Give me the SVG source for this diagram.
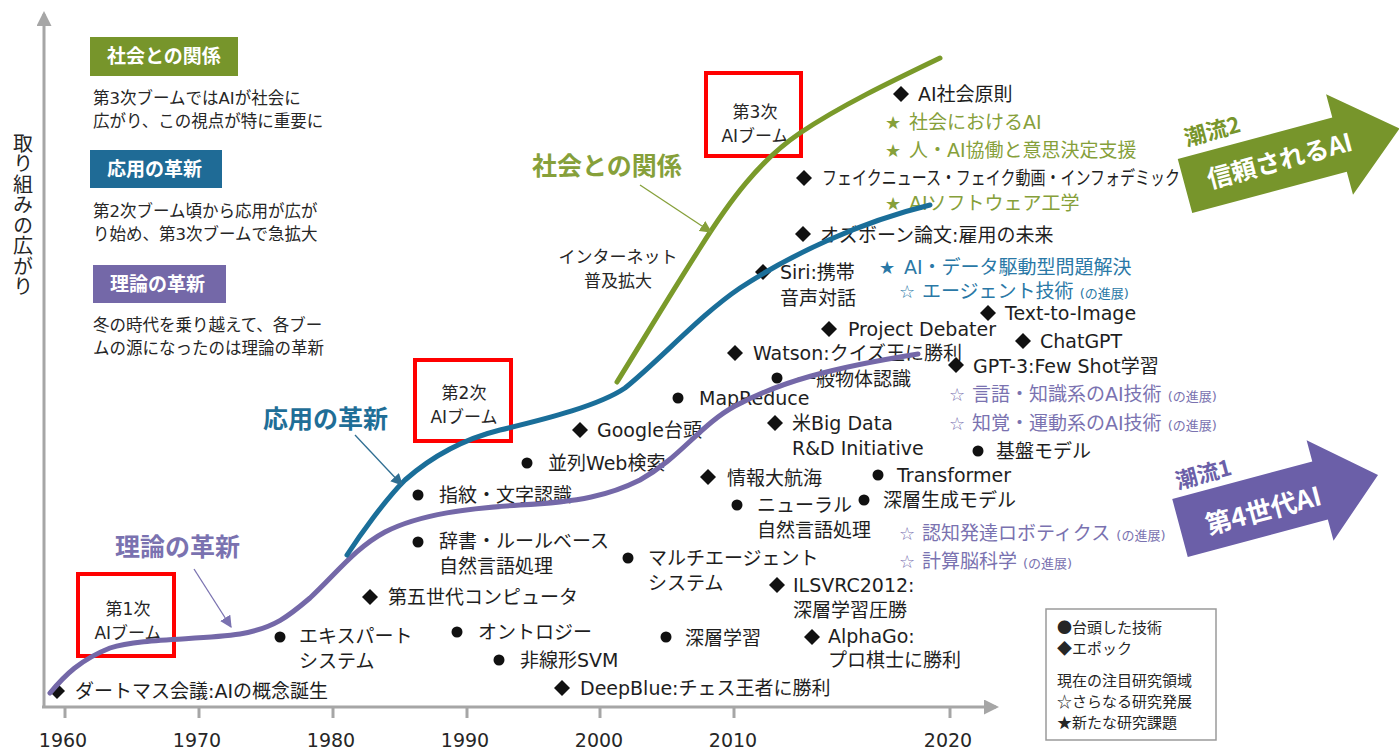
<svg xmlns="http://www.w3.org/2000/svg" width="1399" height="750" viewBox="0 0 1399 750">
<style>
text{font-family:"DejaVu Sans","Noto Sans CJK JP",sans-serif;}
.ev{font-size:19px;fill:#1e1e1e;}
.lg{font-size:16.5px;fill:#262626;}
.bx{font-size:19px;font-weight:bold;fill:#fff;font-family:"Noto Sans CJK JP",sans-serif;}
.cl{font-size:25px;font-weight:bold;font-family:"Noto Sans CJK JP",sans-serif;}
.yr{font-size:19px;fill:#262626;text-anchor:middle;}
.gr{fill:#86a03a;}.bl{fill:#2a78a6;}.pu{fill:#7a72b0;}
.sm{font-size:13px;}
.st{font-size:18px;text-anchor:middle;}
.boom{fill:none;stroke:#ff0000;stroke-width:4;}
.bt{font-size:17px;fill:#262626;text-anchor:middle;}
.ax{stroke:#a6a6a6;stroke-width:3;fill:none;}
.cv{fill:none;stroke-width:5;stroke-linecap:round;}
.lgd{font-size:15px;fill:#262626;font-family:"Noto Sans CJK JP",sans-serif;}
</style>
<defs>
<path id="dm" d="M0,-8 L8,0 0,8 -8,0Z" fill="#111"/>
<circle id="dt" r="5.5" fill="#111"/>
<marker id="axh" viewBox="0 0 10 10" refX="8" refY="5" markerWidth="5" markerHeight="5" orient="auto" markerUnits="strokeWidth"><path d="M0,0 L10,5 0,10Z" fill="#a6a6a6"/></marker>
<marker id="ag" viewBox="0 0 10 10" refX="9" refY="5" markerWidth="12" markerHeight="12" orient="auto" markerUnits="userSpaceOnUse"><path d="M0,0 L10,5 0,10Z" fill="#86a03a"/></marker>
<marker id="ab" viewBox="0 0 10 10" refX="9" refY="5" markerWidth="12" markerHeight="12" orient="auto" markerUnits="userSpaceOnUse"><path d="M0,0 L10,5 0,10Z" fill="#2f6e92"/></marker>
<marker id="ap" viewBox="0 0 10 10" refX="9" refY="5" markerWidth="12" markerHeight="12" orient="auto" markerUnits="userSpaceOnUse"><path d="M0,0 L10,5 0,10Z" fill="#7a72b0"/></marker>
</defs>
<rect width="1399" height="750" fill="#fff"/>

<g id="axes">
<line class="ax" x1="44" y1="707" x2="44" y2="14" marker-end="url(#axh)"/>
<line class="ax" x1="42" y1="707" x2="996" y2="707" marker-end="url(#axh)"/>
<g stroke="#a6a6a6" stroke-width="3">
<line x1="65" y1="707" x2="65" y2="718"/><line x1="199" y1="707" x2="199" y2="718"/><line x1="333" y1="707" x2="333" y2="718"/><line x1="467" y1="707" x2="467" y2="718"/><line x1="600" y1="707" x2="600" y2="718"/><line x1="734" y1="707" x2="734" y2="718"/><line x1="950" y1="707" x2="950" y2="718"/>
</g>
<text class="yr" x="63" y="747">1960</text><text class="yr" x="197" y="747">1970</text><text class="yr" x="331" y="747">1980</text><text class="yr" x="465" y="747">1990</text><text class="yr" x="599" y="747">2000</text><text class="yr" x="733" y="747">2010</text><text class="yr" x="948" y="747">2020</text>
<text x="23" y="133" font-size="20" fill="#262626" style="font-family:'Noto Sans CJK JP',sans-serif;writing-mode:vertical-rl;letter-spacing:0.5px">取り組みの広がり</text>
</g>

<g id="legend-society">
<rect x="90" y="37" width="148" height="39" fill="#77952b"/>
<text class="bx" x="107" y="63">社会との関係</text>
<text class="lg" x="93" y="104">第3次ブームではAIが社会に</text>
<text class="lg" x="93" y="127">広がり、この視点が特に重要に</text>
</g>
<g id="legend-application">
<rect x="90" y="150" width="132" height="38" fill="#1f6b96"/>
<text class="bx" x="107" y="176">応用の革新</text>
<text class="lg" x="93" y="217">第2次ブーム頃から応用が広が</text>
<text class="lg" x="93" y="240">り始め、第3次ブームで急拡大</text>
</g>
<g id="legend-theory">
<rect x="93" y="265" width="133" height="38" fill="#7468a8"/>
<text class="bx" x="110" y="291">理論の革新</text>
<text class="lg" x="93" y="331">冬の時代を乗り越えて、各ブー</text>
<text class="lg" x="93" y="354">ムの源になったのは理論の革新</text>
</g>

<g id="boom1"><rect class="boom" x="78" y="574" width="96" height="82"/><text class="bt" x="128" y="615">第1次</text><text class="bt" x="128" y="639">AIブーム</text></g>
<g id="boom2"><rect class="boom" x="415" y="360" width="96" height="81"/><text class="bt" x="464" y="399">第2次</text><text class="bt" x="464" y="423">AIブーム</text></g>
<g id="boom3"><rect class="boom" x="706" y="73" width="95" height="83"/><text class="bt" x="755" y="118">第3次</text><text class="bt" x="755" y="142">AIブーム</text></g>

<g id="label-society"><text class="cl gr" x="532" y="175">社会との関係</text></g>
<g id="label-application"><text class="cl" fill="#1f6e97" x="263" y="428">応用の革新</text></g>
<g id="label-theory"><text class="cl pu" x="115" y="556">理論の革新</text></g>
<g id="internet"><text class="bt" x="618" y="263">インターネット</text><text class="bt" x="618" y="287">普及拡大</text></g>

<g id="events">
<g id="e-dartmouth"><use href="#dm" x="57" y="691"/><text class="ev" x="75" y="698">ダートマス会議:AIの概念誕生</text></g>
<g id="e-expert"><use href="#dt" x="280" y="637"/><text class="ev" x="299" y="643">エキスパート</text><text class="ev" x="299" y="668">システム</text></g>
<g id="e-fifthgen"><use href="#dm" x="370" y="597"/><text class="ev" x="388" y="604">第五世代コンピュータ</text></g>
<g id="e-fingerprint"><use href="#dt" x="418" y="495"/><text class="ev" x="439" y="502">指紋・文字認識</text></g>
<g id="e-dict"><use href="#dt" x="418" y="542"/><text class="ev" x="439" y="548">辞書・ルールベース</text><text class="ev" x="439" y="573">自然言語処理</text></g>
<g id="e-ontology"><use href="#dt" x="457" y="632"/><text class="ev" x="478" y="639">オントロジー</text></g>
<g id="e-svm"><use href="#dt" x="499" y="660"/><text class="ev" x="520" y="667">非線形SVM</text></g>
<g id="e-deepblue"><use href="#dm" x="562" y="688"/><text class="ev" x="580" y="695">DeepBlue:チェス王者に勝利</text></g>
<g id="e-parallelweb"><use href="#dt" x="527" y="463"/><text class="ev" x="548" y="470">並列Web検索</text></g>
<g id="e-google"><use href="#dm" x="580" y="430"/><text class="ev" x="597" y="437">Google台頭</text></g>
<g id="e-mapreduce"><use href="#dt" x="678" y="398"/><text class="ev" x="699" y="405">MapReduce</text></g>
<g id="e-multiagent"><use href="#dt" x="628" y="558"/><text class="ev" x="648" y="565">マルチエージェント</text><text class="ev" x="648" y="590">システム</text></g>
<g id="e-deeplearning"><use href="#dt" x="666" y="637"/><text class="ev" x="685" y="645">深層学習</text></g>
<g id="e-jouhou"><use href="#dm" x="708" y="477"/><text class="ev" x="727" y="485">情報大航海</text></g>
<g id="e-neuralnlp"><use href="#dt" x="737" y="505"/><text class="ev" x="757" y="512">ニューラル</text><text class="ev" x="757" y="537">自然言語処理</text></g>
<g id="e-bigdata"><use href="#dm" x="775" y="423"/><text class="ev" x="792" y="430">米Big Data</text><text class="ev" x="792" y="455">R&amp;D Initiative</text></g>
<g id="e-objrec"><use href="#dt" x="777" y="378"/><text class="ev" x="797" y="386">一般物体認識</text></g>
<g id="e-watson"><use href="#dm" x="735" y="353"/><text class="ev" x="753" y="360">Watson:クイズ王に勝利</text></g>
<g id="e-debater"><use href="#dm" x="829" y="329"/><text class="ev" x="848" y="336">Project Debater</text></g>
<g id="e-siri"><use href="#dm" x="763" y="272"/><text class="ev" x="780" y="279">Siri:携帯</text><text class="ev" x="780" y="305">音声対話</text></g>
<g id="e-osborne"><use href="#dm" x="803" y="234"/><text class="ev" x="820" y="242">オズボーン論文:雇用の未来</text></g>
<g id="e-fake"><use href="#dm" x="804" y="178"/><text class="ev" x="822" y="185" textLength="358" lengthAdjust="spacingAndGlyphs">フェイクニュース・フェイク動画・インフォデミック</text></g>
<g id="e-ilsvrc"><use href="#dm" x="777" y="585"/><text class="ev" x="793" y="592">ILSVRC2012:</text><text class="ev" x="793" y="617">深層学習圧勝</text></g>
<g id="e-alphago"><use href="#dm" x="812" y="637"/><text class="ev" x="828" y="643">AlphaGo:</text><text class="ev" x="828" y="667">プロ棋士に勝利</text></g>
<g id="e-aiprinciples"><use href="#dm" x="901" y="94"/><text class="ev" x="918" y="101">AI社会原則</text></g>
<g id="e-t2i"><use href="#dm" x="988" y="313"/><text class="ev" x="1005" y="320">Text-to-Image</text></g>
<g id="e-chatgpt"><use href="#dm" x="1023" y="341"/><text class="ev" x="1040" y="348">ChatGPT</text></g>
<g id="e-gpt3"><use href="#dm" x="956" y="365"/><text class="ev" x="973" y="373">GPT-3:Few Shot学習</text></g>
<g id="e-foundation"><use href="#dt" x="978" y="451"/><text class="ev" x="996" y="458">基盤モデル</text></g>
<g id="e-transformer"><use href="#dt" x="878" y="475"/><text class="ev" x="897" y="482">Transformer</text></g>
<g id="e-deepgen"><use href="#dt" x="864" y="500"/><text class="ev" x="883" y="507">深層生成モデル</text></g>
</g>

<g id="research">
<g id="r-society" class="gr"><text class="st" x="893" y="129">★</text><text class="ev gr" x="909" y="129">社会におけるAI</text></g>
<g id="r-collab" class="gr"><text class="st" x="893" y="157">★</text><text class="ev gr" x="909" y="157">人・AI協働と意思決定支援</text></g>
<g id="r-softeng" class="gr"><text class="st" x="893" y="210">★</text><text class="ev gr" x="909" y="210">AIソフトウェア工学</text></g>
<g id="r-datadriven" class="bl"><text class="st" x="887" y="274">★</text><text class="ev bl" x="904" y="274">AI・データ駆動型問題解決</text></g>
<g id="r-agent" class="bl"><text class="st" x="907" y="298">☆</text><text class="ev bl" x="922" y="298">エージェント技術 <tspan class="sm">(の進展)</tspan></text></g>
<g id="r-language" class="pu"><text class="st" x="957" y="401">☆</text><text class="ev pu" x="972" y="401">言語・知識系のAI技術 <tspan class="sm">(の進展)</tspan></text></g>
<g id="r-perception" class="pu"><text class="st" x="957" y="430">☆</text><text class="ev pu" x="972" y="430">知覚・運動系のAI技術 <tspan class="sm">(の進展)</tspan></text></g>
<g id="r-robotics" class="pu"><text class="st" x="907" y="540">☆</text><text class="ev pu" x="922" y="540">認知発達ロボティクス <tspan class="sm">(の進展)</tspan></text></g>
<g id="r-neuro" class="pu"><text class="st" x="907" y="568">☆</text><text class="ev pu" x="922" y="568">計算脳科学 <tspan class="sm">(の進展)</tspan></text></g>
</g>

<g id="key">
<rect x="1046" y="609" width="170" height="131" fill="#fff" stroke="#9a9a9a" stroke-width="1.5"/>
<text class="lgd" x="1057" y="633">●台頭した技術</text>
<text class="lgd" x="1057" y="654">◆エポック</text>
<text class="lgd" x="1057" y="686">現在の注目研究領域</text>
<text class="lgd" x="1057" y="707">☆さらなる研究発展</text>
<text class="lgd" x="1057" y="728">★新たな研究課題</text>
</g>

<g id="trend2" transform="translate(1185,186) rotate(-15)">
<polygon points="0,-28 160,-28 160,-52 222,0 160,52 160,28 0,28" fill="#77952b"/>
<text x="12" y="-38" font-size="22" font-weight="bold" fill="#77952b" style="font-family:'Noto Sans CJK JP',sans-serif">潮流2</text>
<text x="98" y="9" text-anchor="middle" font-size="25" font-weight="bold" fill="#fff" style="font-family:'Noto Sans CJK JP',sans-serif">信頼されるAI</text>
</g>
<g id="trend1" transform="translate(1180,528) rotate(-15)">
<polygon points="0,-30 145,-30 145,-52 205,0 145,52 145,30 0,30" fill="#6b5fa8"/>
<text x="8" y="-38" font-size="22" font-weight="bold" fill="#6b5fa8" style="font-family:'Noto Sans CJK JP',sans-serif">潮流1</text>
<text x="85" y="14" text-anchor="middle" font-size="26" font-weight="bold" fill="#fff" style="font-family:'Noto Sans CJK JP',sans-serif">第4世代AI</text>
</g>

<g id="connectors">
<path class="cv" stroke="#7468a8" d="M50,693 C65,675 80,660 110,648 C140,638 200,640 240,634 C275,628 290,615 310,598 C335,575 355,548 385,532 C420,514 470,508 520,505 C580,502 610,495 640,480 C680,458 700,425 735,406 C780,382 830,368 918,354"/>
<path class="cv" stroke="#1a6e99" d="M347,555 C360,535 385,500 405,480 C430,458 460,440 500,430 C550,418 600,405 625,388 C660,360 700,315 740,288 C790,255 860,222 930,205"/>
<path class="cv" stroke="#7a9a2a" d="M617,382 C640,345 670,295 700,248 C730,200 760,160 800,133 C840,106 890,82 940,58"/>
<line x1="640" y1="185" x2="711" y2="232" stroke="#86a03a" stroke-width="1.3" marker-end="url(#ag)"/>
<line x1="355" y1="435" x2="402" y2="485" stroke="#2f6e92" stroke-width="1.3" marker-end="url(#ab)"/>
<line x1="194" y1="569" x2="231" y2="627" stroke="#7a72b0" stroke-width="1.3" marker-end="url(#ap)"/>
</g>
</svg>
